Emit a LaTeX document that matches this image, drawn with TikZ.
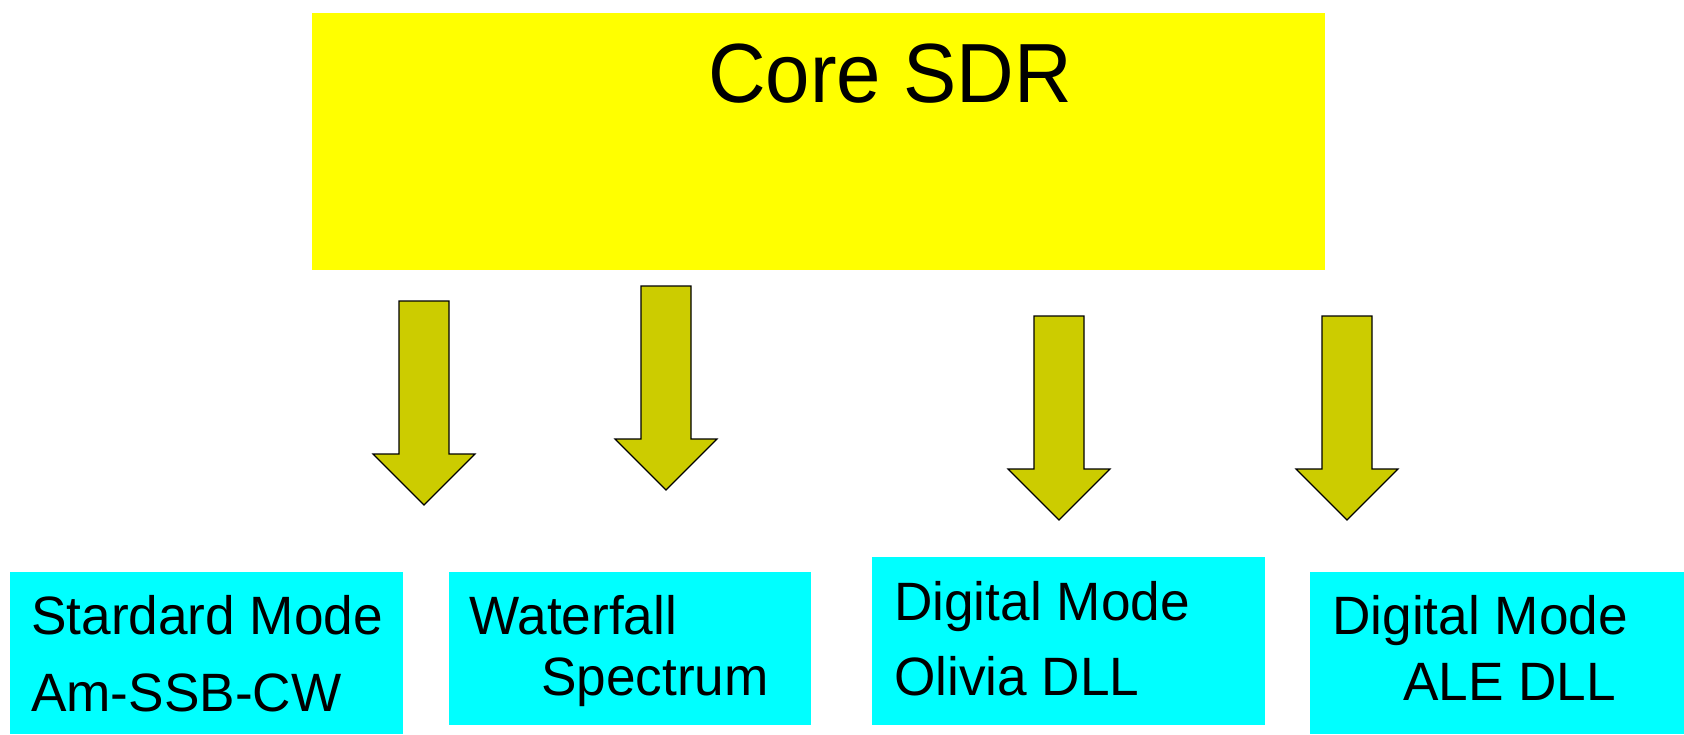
\documentclass[tikz,border=0pt]{standalone}
\usepackage{fontspec}
\setmainfont{Liberation Sans}
\newfontfamily\boxfont[FakeStretch=0.985]{Liberation Sans}
\newfontfamily\corefont[FakeStretch=0.95]{Liberation Sans}
\definecolor{coreyellow}{HTML}{FFFF00}
\definecolor{modecyan}{HTML}{00FFFF}
\definecolor{arrowolive}{HTML}{CCCC00}
\tikzset{
  corebox/.style={fill=coreyellow, draw=none, inner sep=0pt},
  modebox/.style={fill=modecyan, draw=none, inner sep=0pt},
  boxtext/.style={anchor=base west, inner sep=0pt, font=\boxfont\fontsize{54}{54}\selectfont},
  coretext/.style={anchor=base west, inner sep=0pt, font=\corefont\fontsize{84}{84}\selectfont},
  arrowshape/.style={fill=arrowolive, draw=black, line width=1.2pt, line join=miter},
  pics/downarrow/.style={code={
    \draw[arrowshape] (-25,0) -- (25,0) -- (25,153) -- (51,153) -- (0,204) -- (-51,153) -- (-25,153) -- cycle;
  }}
}
\begin{document}
\begin{tikzpicture}[x=1pt,y=-1pt]
\useasboundingbox (0,0) rectangle (1684,734);
% core box
\node[corebox, minimum width=1013pt, minimum height=257pt] (core) at (818.75,141.25) {};
\node[coretext] (coretxt) at (708,102) {Core SDR};
% arrows
\pic at (424,301) {downarrow};
\pic at (666,286) {downarrow};
\pic at (1059,316) {downarrow};
\pic at (1347,316) {downarrow};
% mode boxes
\node[modebox, minimum width=393pt, minimum height=162pt] (b1) at (206.5,653) {};
\node[modebox, minimum width=362pt, minimum height=153pt] (b2) at (630,648.5) {};
\node[modebox, minimum width=393pt, minimum height=168pt] (b3) at (1068.5,641) {};
\node[modebox, minimum width=374pt, minimum height=162pt] (b4) at (1497,653) {};
% texts
\node[boxtext] (t1a) at (31,634) {Stardard Mode};
\node[boxtext] (t1b) at (31,711) {Am-SSB-CW};
\node[boxtext] (t2a) at (469,634) {Waterfall};
\node[boxtext] (t2b) at (541,695) {Spectrum};
\node[boxtext] (t3a) at (894,620) {Digital Mode};
\node[boxtext] (t3b) at (894,695) {Olivia DLL};
\node[boxtext] (t4a) at (1332,634) {Digital Mode};
\node[boxtext] (t4b) at (1403,700) {ALE DLL};
\end{tikzpicture}
\end{document}
